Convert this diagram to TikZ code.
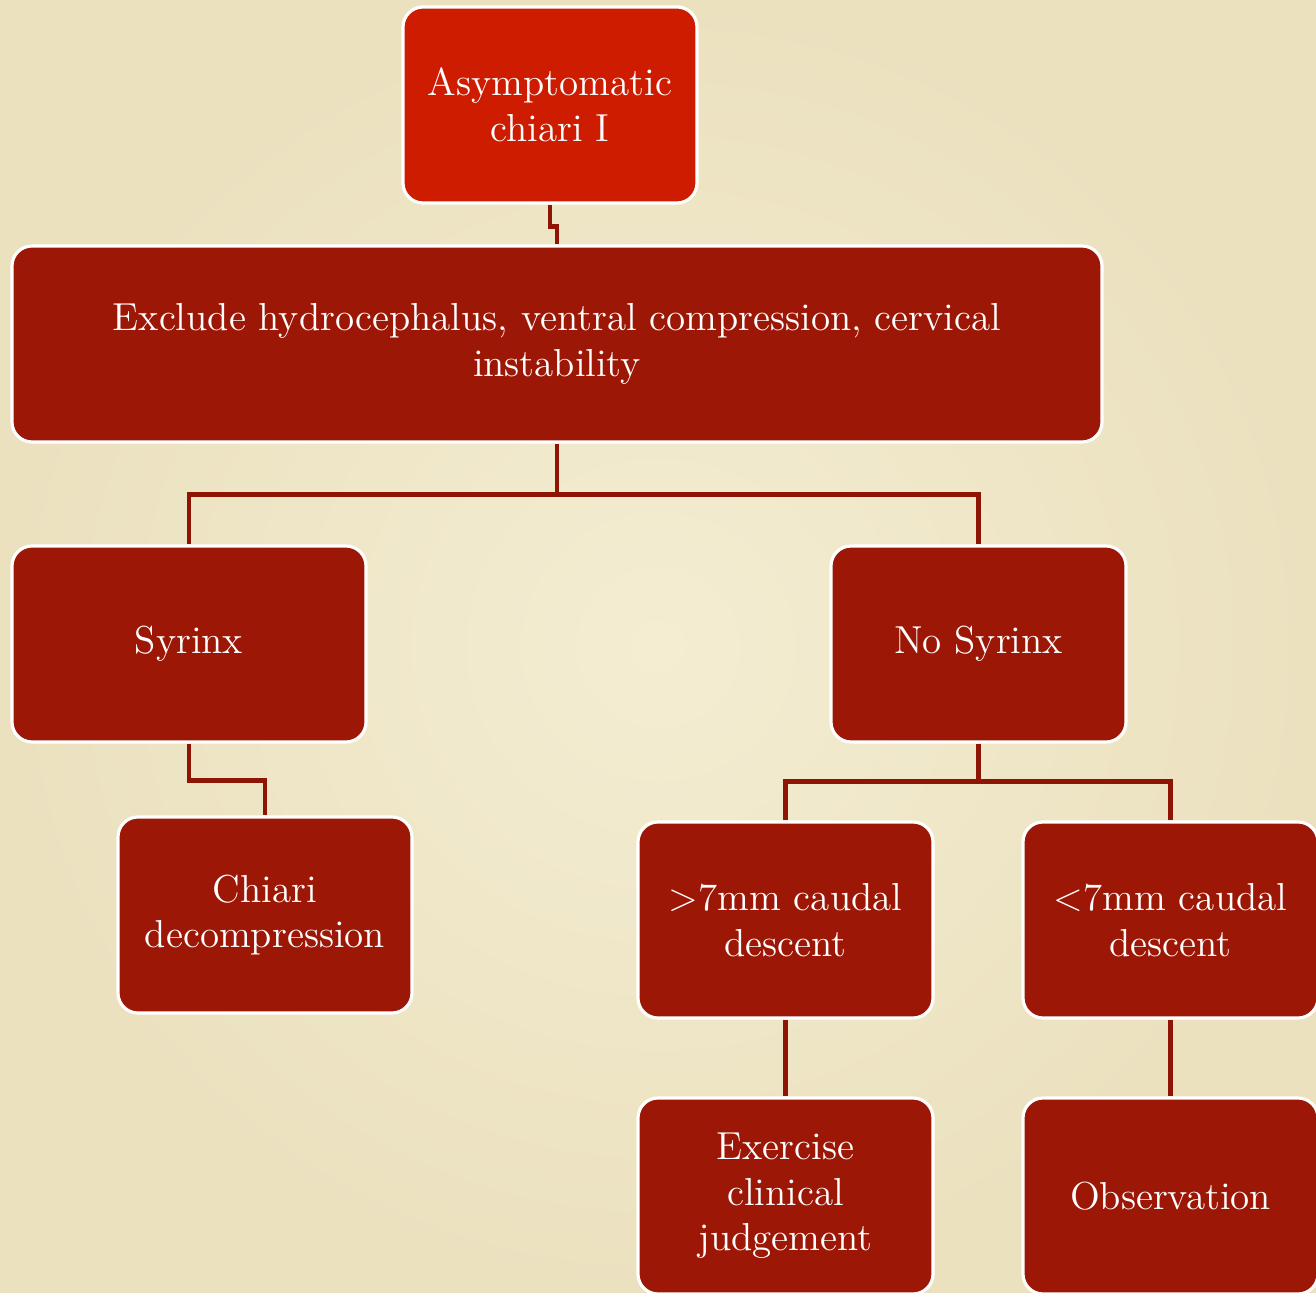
\documentclass[tikz,border=0pt]{standalone}
\usepackage{xcolor}
\usepackage{tikz}
\usetikzlibrary{positioning}
\definecolor{parchment}{HTML}{F4EDD2}
\definecolor{parchmentdark}{HTML}{EBE1BF}
\definecolor{boxred}{HTML}{9C1706}
\definecolor{topred}{HTML}{CD1C00}
\definecolor{linkred}{HTML}{8E1405}
\begin{document}
\begin{tikzpicture}
						\tikzstyle{block}=[draw=white,line width=0.9pt,rounded corners=0.2cm,fill=boxred,text=white,align=center,minimum width=2.94cm,minimum height=1.96cm,inner sep=0pt,font=\fontsize{11.1}{13}\selectfont]
						\tikzstyle{link}=[linkred,line width=1.2pt]
						\useasboundingbox (0,0) rectangle (13.16,12.93);
						\shade[inner color=parchment,outer color=parchmentdark] (0,0) rectangle (13.16,12.93);
						\node[block,fill=topred](top) at (5.50,11.88) {Asymptomatic\\chiari I};
						\node[block,minimum width=10.90cm](excl) at (5.57,9.49) {Exclude hydrocephalus, ventral compression, cervical\\instability};
						\node[block,minimum width=3.54cm](syr) at (1.89,6.49) {Syrinx};
						\node[block,minimum width=2.95cm](nosyr) at (9.785,6.49) {No Syrinx};
						\node[block](chiari) at (2.65,3.78) {Chiari\\decompression};
						\node[block,minimum width=2.95cm](gt) at (7.855,3.73) {{>}7mm caudal\\descent};
						\node[block,minimum width=2.95cm](lt) at (11.705,3.73) {{<}7mm caudal\\descent};
						\node[block,minimum width=2.95cm](exer) at (7.855,0.97) {Exercise\\clinical\\judgement};
						\node[block,minimum width=2.95cm](obs) at (11.705,0.97) {Observation};
						\draw[link](top.south) -- ++(0,-0.22) -| (excl.north);
						\draw[link](excl.south) -- ++(0,-0.51) -| (syr.north);
						\draw[link](excl.south) -- ++(0,-0.51) -| (nosyr.north);
						\draw[link](syr.south) -- ++(0,-0.37) -| (chiari.north);
						\draw[link](nosyr.south) -- ++(0,-0.38) -| (gt.north);
						\draw[link](nosyr.south) -- ++(0,-0.38) -| (lt.north);
						\draw[link](gt.south) -- (exer.north);
						\draw[link](lt.south) -- (obs.north);
					\end{tikzpicture}
\end{document}
